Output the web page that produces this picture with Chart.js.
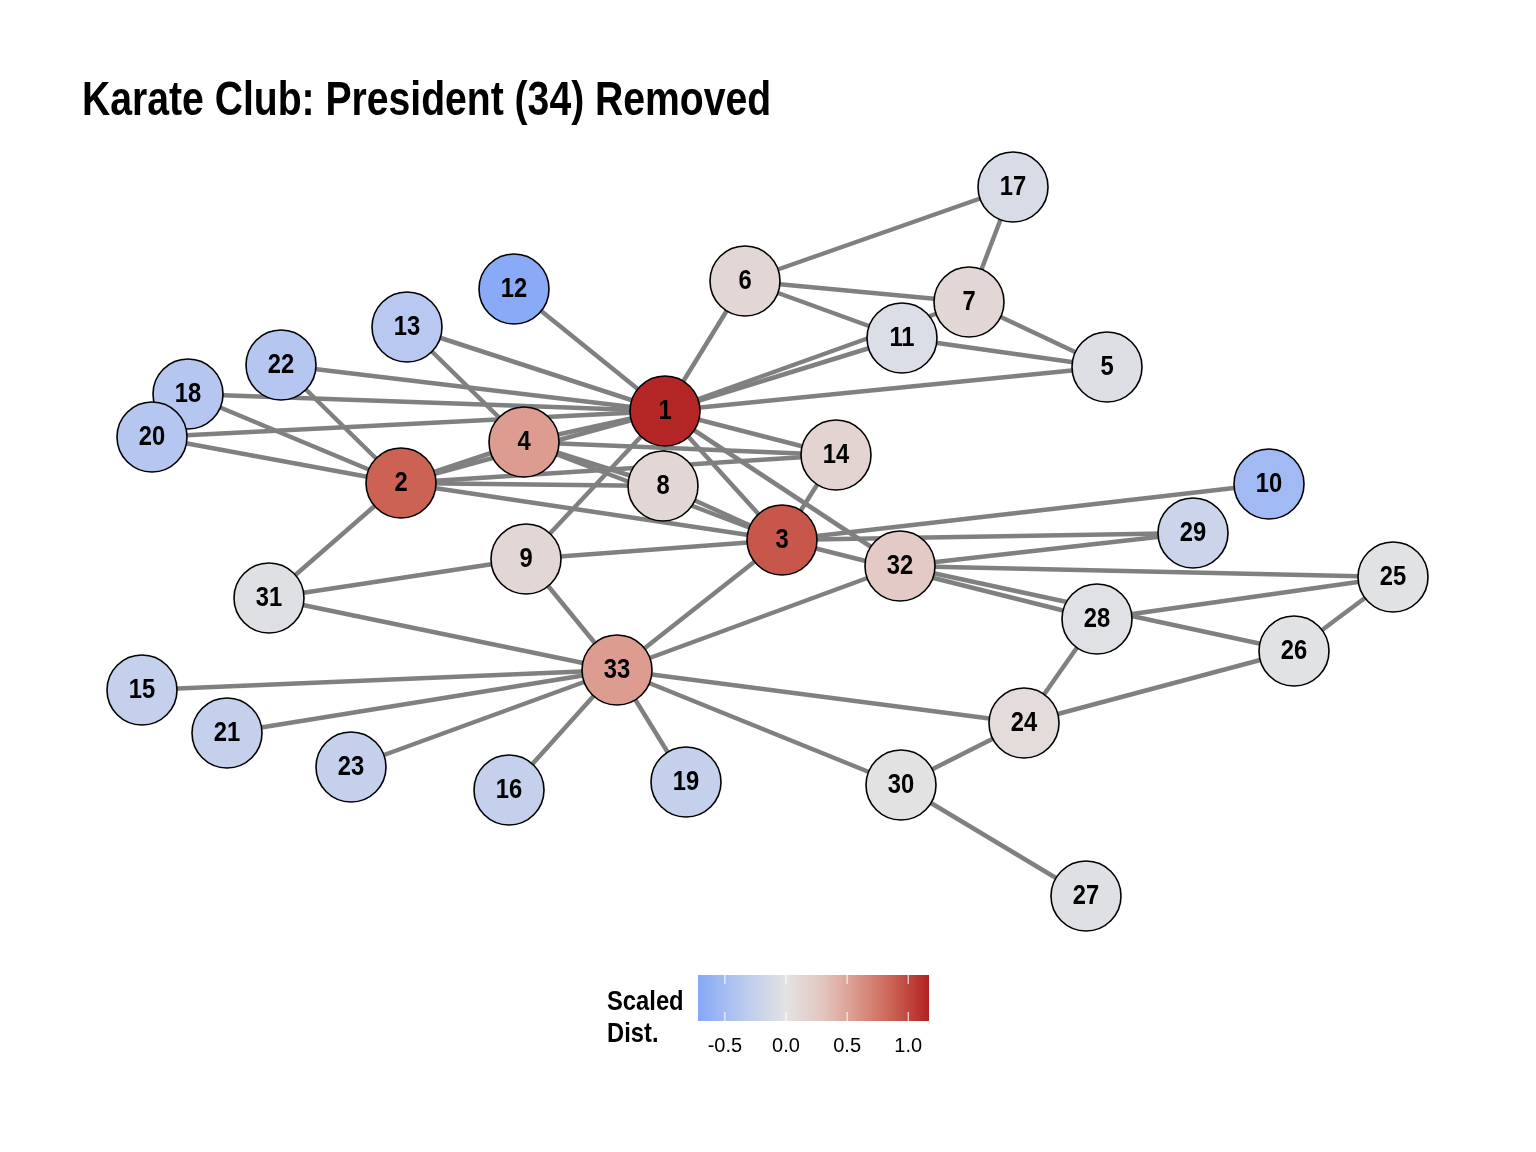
<!DOCTYPE html>
<html>
<head>
<meta charset="utf-8">
<script src="https://cdn.jsdelivr.net/npm/chart.js@4/dist/chart.umd.min.js"></script>
<style>
  html, body { margin: 0; padding: 0; background: #fff; }
  #wrap { width: 1536px; height: 1152px; position: relative; }
</style>
</head>
<body>
<div id="wrap"><canvas id="net"></canvas></div>
<script>
// node ids, layout coordinates (layout units) and scaled distance
const nodeIds = [1,2,3,4,5,6,7,8,9,10,11,12,13,14,15,16,17,18,19,20,21,22,23,24,25,26,27,28,29,30,31,32,33];
const layoutX = [665,401,782,524,1107,745,969,663,526,1269,902,514,407,836,142,509,1013,188,686,152,227,281,351,1024,1393,1294,1086,1097,1193,901,269,900,617];
const layoutY = [411,483,540,442,367,281,302,486,559,484,338,289,327,455,690,790,187,394,782,437,733,365,767,723,577,651,896,619,533,785,598,566,670];
const scaledDist = [1.15,0.87,0.92,0.55,-0.05,0.12,0.12,0.12,0.12,-0.52,-0.07,-0.70,-0.36,0.15,-0.25,-0.25,-0.10,-0.38,-0.25,-0.38,-0.25,-0.38,-0.25,0.07,-0.02,-0.02,-0.04,-0.03,-0.20,-0.01,-0.04,0.25,0.55];

// edges (node 34 removed), as [from, to]
const edges = [
  [1,2],[1,3],[1,4],[1,5],[1,6],[1,7],[1,8],[1,9],[1,11],[1,12],[1,13],[1,14],[1,18],[1,20],[1,22],[1,32],
  [2,3],[2,4],[2,8],[2,14],[2,18],[2,20],[2,22],[2,31],
  [3,4],[3,8],[3,9],[3,10],[3,14],[3,28],[3,29],[3,33],
  [4,8],[4,13],[4,14],
  [5,7],[5,11],
  [6,7],[6,11],[6,17],
  [7,17],
  [9,31],[9,33],
  [15,33],[16,33],[19,33],[21,33],[23,33],
  [24,26],[24,28],[24,30],[24,33],
  [25,26],[25,28],[25,32],
  [26,32],
  [27,30],
  [29,32],
  [30,33],
  [31,33],
  [32,33]
];

// colour bar
const barMin = -0.72, barMax = 1.17;
const barTicks = [-0.5, 0.0, 0.5, 1.0];
const colorStops = [[-0.72,'#86a8f6'],[-0.36,'#b8c8f0'],[0,'#e3e3e3'],[0.3,'#e3c5c0'],[0.55,'#dc9c8f'],[0.87,'#cb6253'],[1.17,'#b22222']];

function hexToRgb(h) {
  return [parseInt(h.slice(1,3),16), parseInt(h.slice(3,5),16), parseInt(h.slice(5,7),16)];
}
function colorFor(v) {
  if (v <= colorStops[0][0]) return colorStops[0][1];
  for (let i = 1; i < colorStops.length; i++) {
    if (v <= colorStops[i][0]) {
      const [a, ca] = colorStops[i-1], [b, cb] = colorStops[i];
      const t = (v - a) / (b - a);
      const p = hexToRgb(ca), q = hexToRgb(cb);
      const c = p.map((x, k) => Math.round(x + (q[k] - x) * t));
      return `rgb(${c[0]},${c[1]},${c[2]})`;
    }
  }
  return colorStops[colorStops.length-1][1];
}

const FONT = '"Liberation Sans", Arial, sans-serif';

// narrow text: no condensed face installed, so squeeze horizontally
function narrowText(ctx, text, x, y, sx) {
  ctx.save();
  ctx.translate(x, y);
  ctx.scale(sx, 1);
  ctx.fillText(text, 0, 0);
  ctx.restore();
}

const edgeSets = edges.map(([a, b]) => ({
  type: 'scatter',
  showLine: true,
  data: [{x: layoutX[a-1], y: layoutY[a-1]}, {x: layoutX[b-1], y: layoutY[b-1]}],
  borderColor: '#808080',
  borderWidth: 4.5,
  pointRadius: 0,
  order: 2
}));

const nodeSet = {
  type: 'scatter',
  data: nodeIds.map((id, i) => ({x: layoutX[i], y: layoutY[i]})),
  pointRadius: 35,
  pointHoverRadius: 35,
  backgroundColor: scaledDist.map(colorFor),
  borderColor: '#000',
  borderWidth: 1.6,
  order: 1
};

const decorations = {
  id: 'decorations',
  afterDatasetsDraw(chart) {
    const ctx = chart.ctx;
    const meta = chart.getDatasetMeta(chart.data.datasets.length - 1);
    ctx.save();
    ctx.fillStyle = '#000';
    ctx.textAlign = 'center';
    ctx.textBaseline = 'middle';
    ctx.font = 'bold 27px ' + FONT;
    meta.data.forEach((pt, i) => {
      narrowText(ctx, String(nodeIds[i]), pt.x, pt.y + 1, 0.88);
    });

    // title
    ctx.textAlign = 'left';
    ctx.textBaseline = 'alphabetic';
    ctx.font = 'bold 48px ' + FONT;
    narrowText(ctx, 'Karate Club: President (34) Removed', 82, 115, 0.815);

    // colour bar
    const x0 = 698, x1 = 929, y0 = 975, y1 = 1021;
    const grad = ctx.createLinearGradient(x0, 0, x1, 0);
    colorStops.forEach(([v, c]) => grad.addColorStop((v - barMin) / (barMax - barMin), c));
    ctx.fillStyle = grad;
    ctx.fillRect(x0, y0, x1 - x0, y1 - y0);
    ctx.strokeStyle = '#fff';
    ctx.lineWidth = 1;
    ctx.font = '20px ' + FONT;
    ctx.textAlign = 'center';
    barTicks.forEach(t => {
      const x = x0 + (t - barMin) / (barMax - barMin) * (x1 - x0);
      ctx.beginPath();
      ctx.moveTo(x, y0); ctx.lineTo(x, y0 + 9);
      ctx.moveTo(x, y1 - 9); ctx.lineTo(x, y1);
      ctx.stroke();
      ctx.fillStyle = '#000';
      ctx.fillText(t.toFixed(1), x, 1052);
    });
    ctx.textAlign = 'left';
    ctx.font = 'bold 27px ' + FONT;
    narrowText(ctx, 'Scaled', 607, 1010, 0.88);
    narrowText(ctx, 'Dist.', 607, 1042, 0.88);
    ctx.restore();
  }
};

new Chart(document.getElementById('net'), {
  type: 'scatter',
  data: { datasets: [...edgeSets, nodeSet] },
  options: {
    responsive: true,
    maintainAspectRatio: false,
    animation: false,
    layout: { padding: 0, autoPadding: false },
    plugins: { legend: { display: false }, tooltip: { enabled: false } },
    scales: {
      x: { type: 'linear', min: 0, max: 1536, display: false },
      y: { type: 'linear', min: 0, max: 1152, reverse: true, display: false }
    }
  },
  plugins: [decorations]
});
</script>
</body>
</html>
